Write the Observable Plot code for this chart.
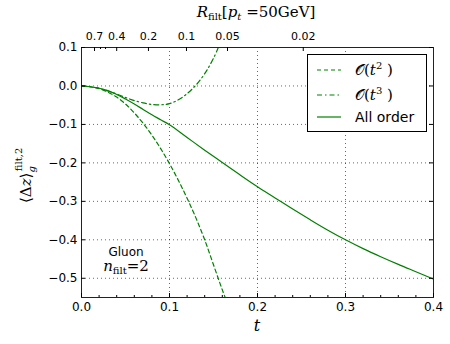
<!DOCTYPE html>
<html><head><meta charset="utf-8">
<script src="https://cdn.jsdelivr.net/npm/d3@7"></script>
<script src="https://cdn.jsdelivr.net/npm/@observablehq/plot@0.6"></script>
<style>body{margin:0;background:#fff} svg{display:block}</style>
</head><body><div id="chart"></div>
<script>
// ---- data ----
const allOrderT = [0,0.01,0.02,0.03,0.04,0.05,0.06,0.07,0.08,0.09,0.10,0.12,0.14,0.16,0.18,0.20,0.22,0.24,0.26,0.28,0.30,0.32,0.34,0.36,0.38,0.40];
const allOrderV = [0,-0.002,-0.006,-0.012,-0.022,-0.034,-0.047,-0.061,-0.075,-0.088,-0.101,-0.134,-0.167,-0.199,-0.231,-0.262,-0.291,-0.32,-0.348,-0.375,-0.4,-0.423,-0.444,-0.464,-0.483,-0.502];
const orderT2T = [0,0.01,0.02,0.03,0.04,0.05,0.06,0.07,0.08,0.09,0.10,0.11,0.12,0.13,0.14,0.15,0.16,0.17];
const orderT2V = [0,-0.002,-0.007,-0.016,-0.029,-0.047,-0.07,-0.097,-0.128,-0.163,-0.202,-0.245,-0.292,-0.343,-0.4,-0.465,-0.53,-0.59];
const orderT3T = [0,0.01,0.02,0.03,0.04,0.05,0.06,0.07,0.08,0.09,0.10,0.11,0.12,0.13,0.14,0.15,0.16];
const orderT3V = [0,-0.002,-0.006,-0.013,-0.021,-0.03,-0.038,-0.044,-0.048,-0.049,-0.046,-0.036,-0.02,0.002,0.032,0.072,0.125];

const xTicks = [0,0.1,0.2,0.3,0.4];
const xMinor = [0.02,0.04,0.06,0.08,0.12,0.14,0.16,0.18,0.22,0.24,0.26,0.28,0.32,0.34,0.36,0.38];
const xGrid = [0.1,0.2,0.3];
const yTicks = [0.1,0,-0.1,-0.2,-0.3,-0.4,-0.5];
const yGrid = [0,-0.1,-0.2,-0.3,-0.4,-0.5];
// top axis: R_filt at pt = 50 GeV, positioned at the t values where they sit
const topLabels = ["0.7","0.4","0.2","0.1","0.05","0.02"];
const topTickT = [0.0148,0.040,0.0761,0.1193,0.1659,0.252];
const topMinorT = [0.0216,0.0273];

const toRows = (ts, vs) => ts.map((t,i) => ({t, v: vs[i]}));
const green = "#008000";
const W = 450, H = 344, mL = 81, mR = 17, mT = 47, mB = 47;
const ph = H - mT - mB, pw = W - mL - mR;
const fmt = d3.format(".1f");

const plot = Plot.plot({
  width: W, height: H, marginLeft: mL, marginRight: mR, marginTop: mT, marginBottom: mB,
  style: {fontFamily: "DejaVu Sans", fontSize: "12px", background: "white", color: "#000"},
  x: {domain: [0, 0.4]},
  y: {domain: [-0.55, 0.1]},
  marks: [
    Plot.gridX(xGrid, {stroke: "#000", strokeOpacity: 0.75, strokeWidth: 0.8, strokeDasharray: "1,3"}),
    Plot.gridY(yGrid, {stroke: "#000", strokeOpacity: 0.75, strokeWidth: 0.8, strokeDasharray: "1,3"}),
    Plot.line(toRows(orderT2T, orderT2V), {x: "t", y: "v", stroke: green, strokeWidth: 1.2, strokeDasharray: "4,3", curve: "catmull-rom", clip: true}),
    Plot.line(toRows(orderT3T, orderT3V), {x: "t", y: "v", stroke: green, strokeWidth: 1.2, strokeDasharray: "5,3,1.5,3", curve: "catmull-rom", clip: true}),
    Plot.line(toRows(allOrderT, allOrderV), {x: "t", y: "v", stroke: green, strokeWidth: 1.2, curve: "catmull-rom", clip: true}),
    Plot.frame({stroke: "#222", strokeWidth: 1}),
    // tick marks (inward)
    Plot.tickX(xTicks, {x: d => d, insetTop: ph - 4, stroke: "#000"}),
    Plot.tickX(xMinor, {x: d => d, insetTop: ph - 2, stroke: "#000"}),
    Plot.tickX(topTickT, {x: d => d, insetBottom: ph - 4, stroke: "#000"}),
    Plot.tickX(topMinorT, {x: d => d, insetBottom: ph - 2, stroke: "#000"}),
    Plot.tickY(yTicks, {y: d => d, insetRight: pw - 4, stroke: "#000"}),
    Plot.tickY(yTicks, {y: d => d, insetLeft: pw - 4, stroke: "#000"}),
    // tick labels
    Plot.axisX(xTicks, {anchor: "bottom", tickSize: 0, tickPadding: 5, tickFormat: fmt, label: null, fontSize: 12}),
    Plot.axisY(yTicks, {anchor: "left", tickSize: 0, tickPadding: 4, tickFormat: fmt, label: null, fontSize: 12}),
    Plot.text(topTickT, {x: d => d, text: (d, i) => topLabels[i], frameAnchor: "top", lineAnchor: "bottom", dy: -8, fontSize: 11})
  ]
});
document.getElementById("chart").appendChild(plot);

const svg = d3.select(plot);
const serif = "DejaVu Serif";

// y label
const yl = svg.append("text").attr("transform", "translate(31,203) rotate(-90)").attr("text-anchor", "start")
  .attr("font-family", serif).attr("font-size", 15).attr("fill", "#000");
yl.append("tspan").text("⟨Δ");
yl.append("tspan").attr("font-style", "italic").text("z");
yl.append("tspan").text("⟩");
yl.append("tspan").attr("font-style", "italic").attr("font-size", 10).attr("dy", 4).text("g");
yl.append("tspan").attr("font-size", 10).attr("dx", -5).attr("dy", -13).text("filt,2");

// x label
svg.append("text").attr("x", 257).attr("y", 331).attr("text-anchor", "middle")
  .attr("font-family", serif).attr("font-style", "italic").attr("font-size", 16).text("t");

// top label
const tl = svg.append("text").attr("x", 256).attr("y", 17).attr("text-anchor", "middle")
  .attr("font-family", serif).attr("font-size", 15).attr("fill", "#000");
tl.append("tspan").attr("font-style", "italic").text("R");
tl.append("tspan").attr("font-size", 10).attr("dy", 3).text("filt");
tl.append("tspan").attr("dy", -3).text("[");
tl.append("tspan").attr("font-style", "italic").text("p");
tl.append("tspan").attr("font-style", "italic").attr("font-size", 10).attr("dy", 3).text("t");
tl.append("tspan").attr("dy", -3).text(" =50GeV]");

// annotation
svg.append("text").attr("x", 126).attr("y", 256).attr("text-anchor", "middle")
  .attr("font-family", "DejaVu Sans").attr("font-size", 12).text("Gluon");
const nf = svg.append("text").attr("x", 126).attr("y", 271).attr("text-anchor", "middle")
  .attr("font-family", serif).attr("font-size", 15);
nf.append("tspan").attr("font-style", "italic").text("n");
nf.append("tspan").attr("font-size", 10).attr("dy", 3).text("filt");
nf.append("tspan").attr("dy", -3).text("=2");

// legend
const lg = svg.append("g").attr("text-anchor", "start");
lg.append("rect").attr("x", 307.5).attr("y", 54.5).attr("width", 119).attr("height", 77)
  .attr("fill", "white").attr("stroke", "#000").attr("stroke-width", 1);
const entries = [
  {dash: "4,3", sup: "2", y: 70},
  {dash: "5,3,1.5,3", sup: "3", y: 95},
  {dash: null, y: 117}
];
entries.forEach(e => {
  const ln = lg.append("line").attr("x1", 317).attr("x2", 341).attr("y1", e.y).attr("y2", e.y)
    .attr("stroke", green).attr("stroke-width", 1.2);
  if (e.dash) ln.attr("stroke-dasharray", e.dash);
  if (e.sup) {
    const t = lg.append("text").attr("x", 355).attr("y", e.y + 5).attr("font-family", serif).attr("font-size", 15);
    t.append("tspan").text("𝒪(");
    t.append("tspan").attr("font-style", "italic").text("t");
    t.append("tspan").attr("font-size", 10).attr("dy", -6).text(e.sup);
    t.append("tspan").attr("dy", 6).text(" )");
  } else {
    lg.append("text").attr("x", 355).attr("y", e.y + 5).attr("font-family", "DejaVu Sans").attr("font-size", 14).text("All order");
  }
});
</script>
</body></html>
